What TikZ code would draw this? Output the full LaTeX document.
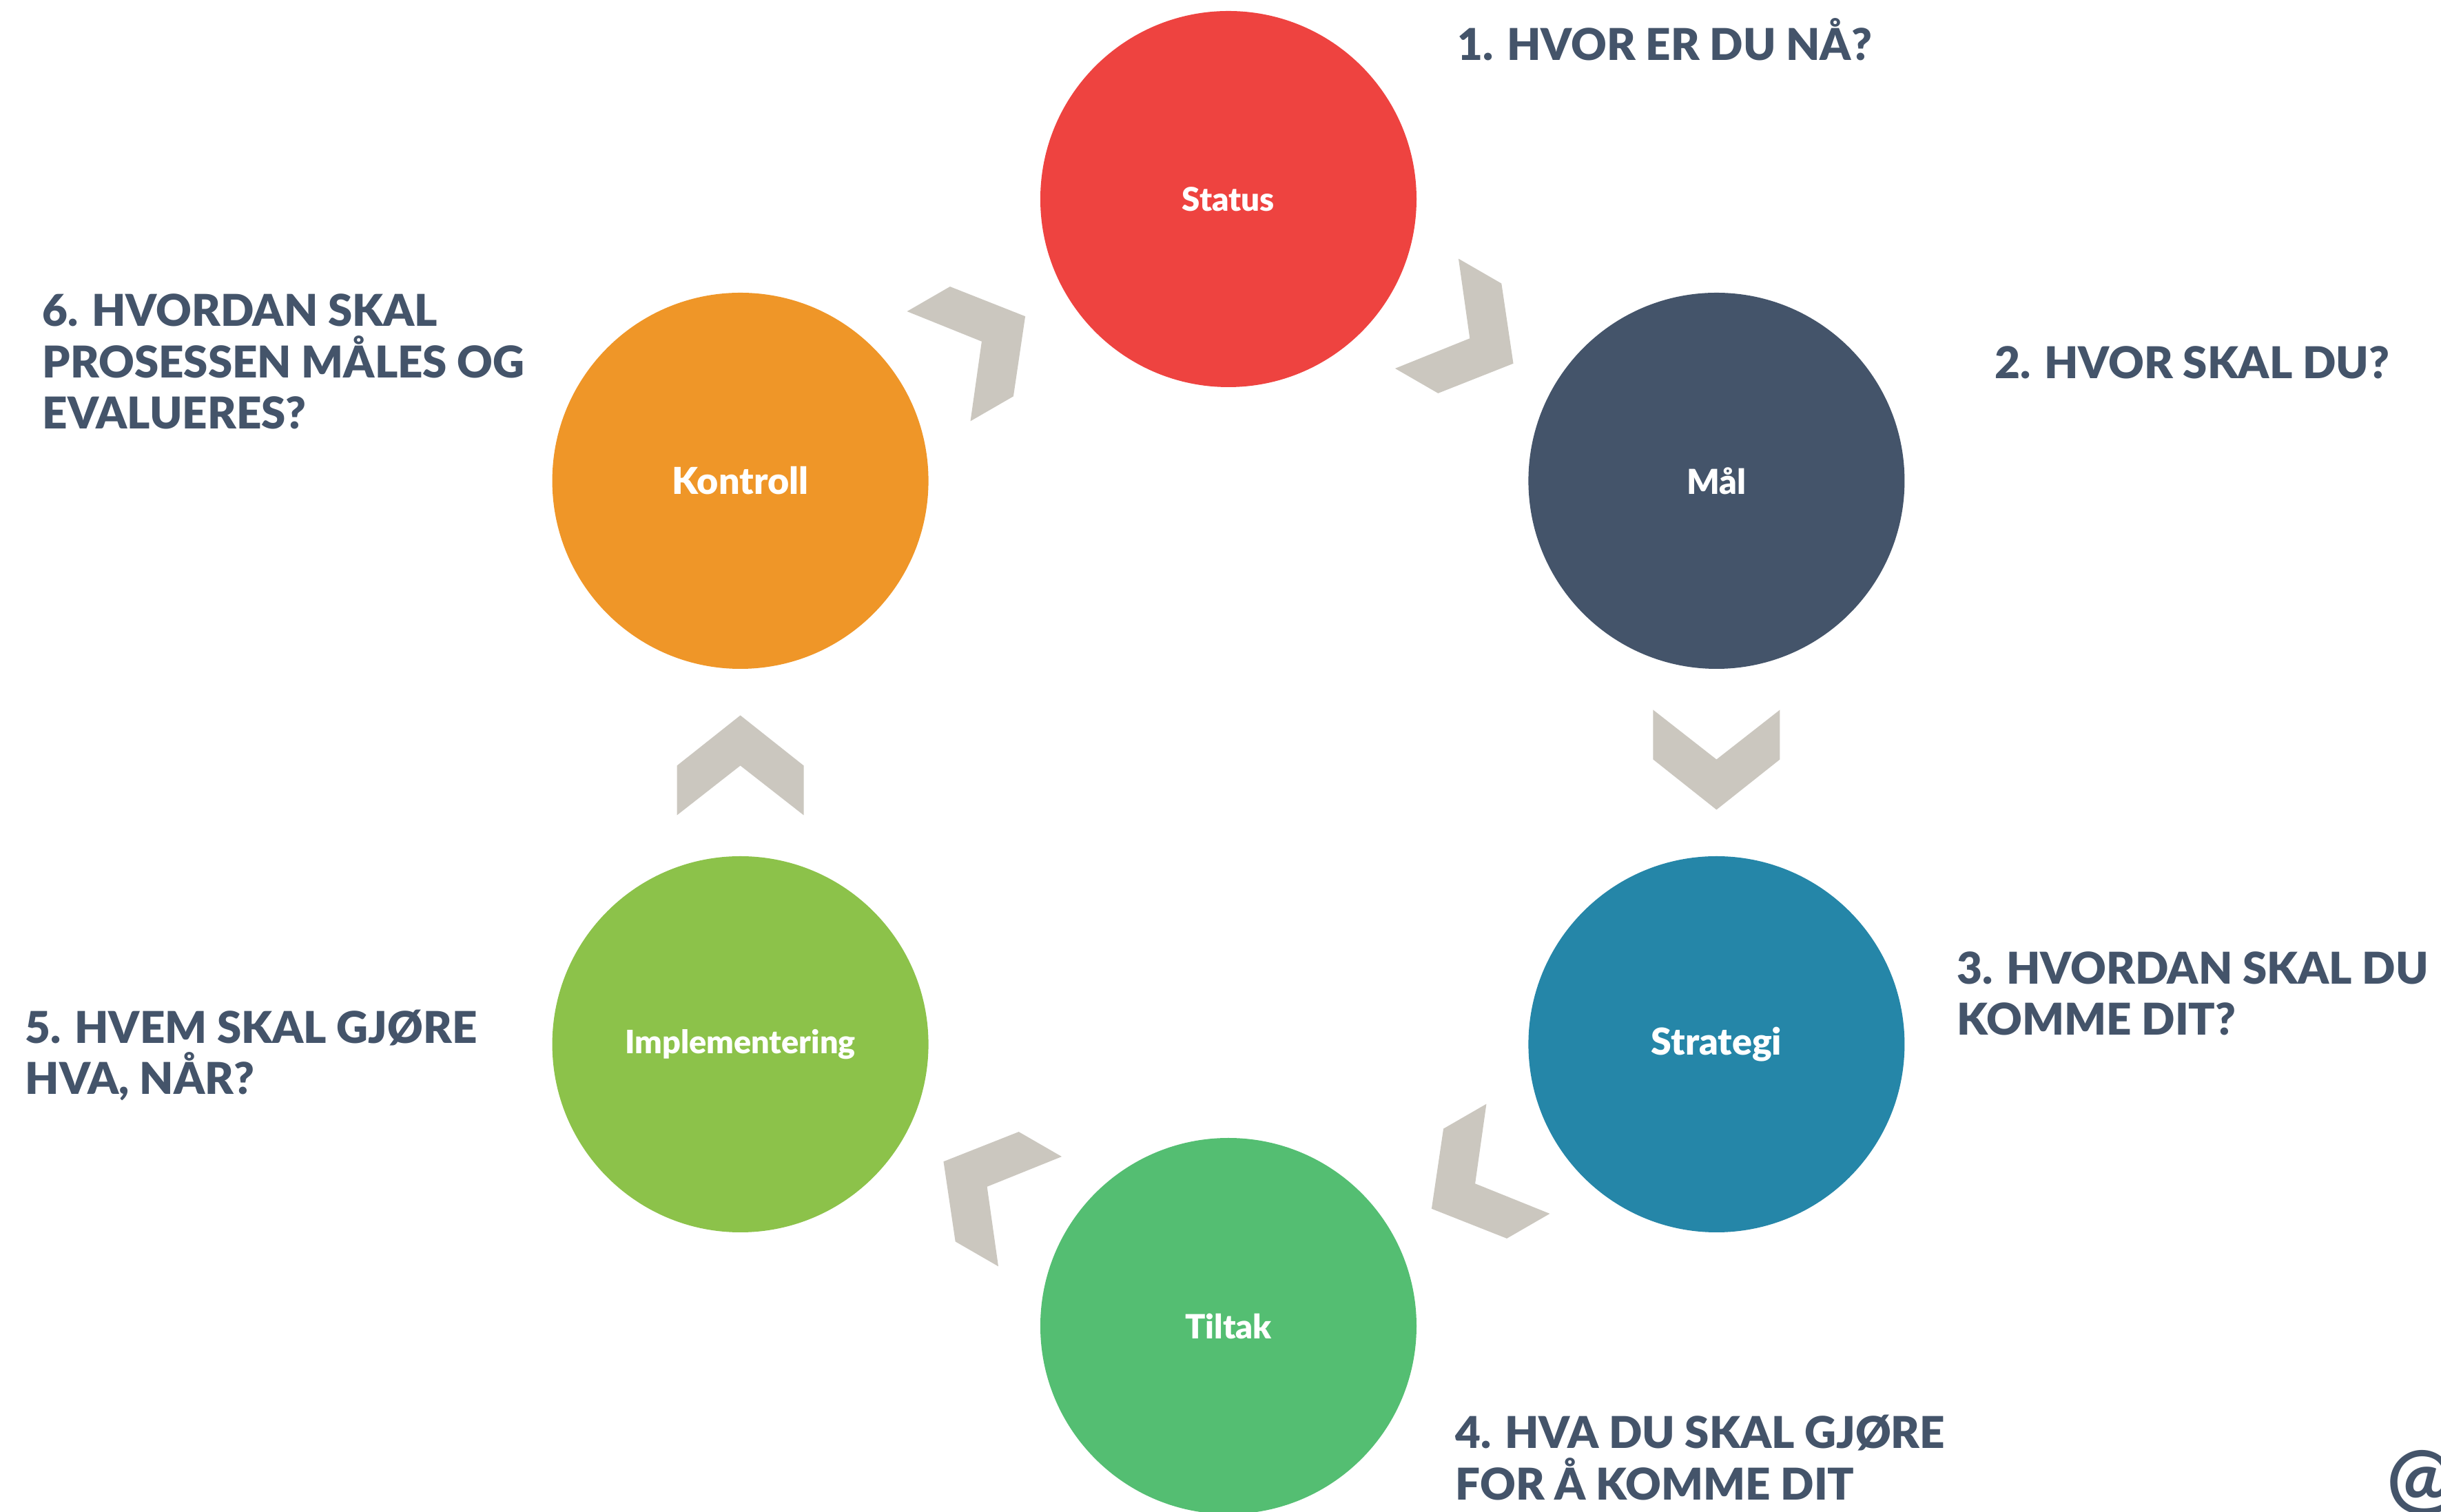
\documentclass[tikz,border=0pt]{standalone}
\usepackage{fontspec}
\setmainfont{Lato}
\newfontfamily\overskriftfont{Lato Black}
\usetikzlibrary{calc}

\definecolor{skifer}{HTML}{44546A}
\definecolor{statusrod}{HTML}{EE4340}
\definecolor{strategiblaa}{HTML}{2586A8}
\definecolor{tiltakgronn}{HTML}{54BE72}
\definecolor{implgronn}{HTML}{8CC24A}
\definecolor{kontrolloransje}{HTML}{EF9628}
\definecolor{pilgraa}{HTML}{CBC7BF}

\tikzset{
	kreis/.style={circle, minimum size=5.46cm, inner sep=0pt, text=white},
	spoersmaal/.style={anchor=base west, align=left, inner sep=0pt, text=skifer,
		font=\overskriftfont\fontsize{18.1}{21.3}\selectfont},
	pil/.style={fill=pilgraa}
}

\begin{document}
\begin{tikzpicture}
			\useasboundingbox (-17.83,-10.88) rectangle (17.60,11.07);
			
			% Kreise im Sechseck
			\foreach \navn/\vinkel/\farge/\grad/\tekst in {status/90/statusrod/13.5/Status, maal/30/skifer/14.2/Mål, strategi/-30/strategiblaa/15.3/Strategi, tiltak/-90/tiltakgronn/13.8/Tiltak, impl/-150/implgronn/13.3/Implementering, kontroll/150/kontrolloransje/15.3/Kontroll} {
				\node[kreis, fill=\farge, font=\overskriftfont\fontsize{\grad}{16}\selectfont] (\navn) at (\vinkel:8.18) {\tekst};
			}
			
			% Winkelpfeile zwischen den Kreisen
			\foreach \fra/\til/\retning in {status/maal/-30, maal/strategi/-90, strategi/tiltak/-150, tiltak/impl/150, impl/kontroll/90, kontroll/status/30} {
				\begin{scope}[shift={($(\fra)!0.5!(\til)$)}, rotate=\retning]
					\fill[pil] (-0.765,-0.92) -- (-0.045,0) -- (-0.765,0.92) -- (-0.045,0.92) -- (0.685,0) -- (-0.045,-0.92) -- cycle;
				\end{scope}
			}
			
			% Fragen (Grundlinie der letzten Zeile)
			\node[spoersmaal] (sp1) at (3.32,10.19) {1. HVOR ER DU NÅ?};
			\node[spoersmaal] (sp2) at (11.12,5.57) {2. HVOR SKAL DU?};
			\node[spoersmaal] (sp3) at (10.57,-3.96) {3. HVORDAN SKAL DU\\KOMME DIT?};
			\node[spoersmaal] (sp4) at (3.29,-10.70) {4. HVA DU SKAL GJØRE\\FOR Å KOMME DIT};
			\node[spoersmaal] (sp5) at (-17.47,-4.82) {5. HVEM SKAL GJØRE\\HVA, NÅR?};
			\node[spoersmaal] (sp6) at (-17.22,4.84) {6. HVORDAN SKAL\\PROSESSEN MÅLES OG\\EVALUERES?};
			
			% Zeichen unten rechts
			\node[anchor=base west, inner sep=0pt, text=skifer, font=\fontsize{33}{33}\selectfont\bfseries] (krollalfa) at (16.81,-10.78) {@};
\end{tikzpicture}
\end{document}
